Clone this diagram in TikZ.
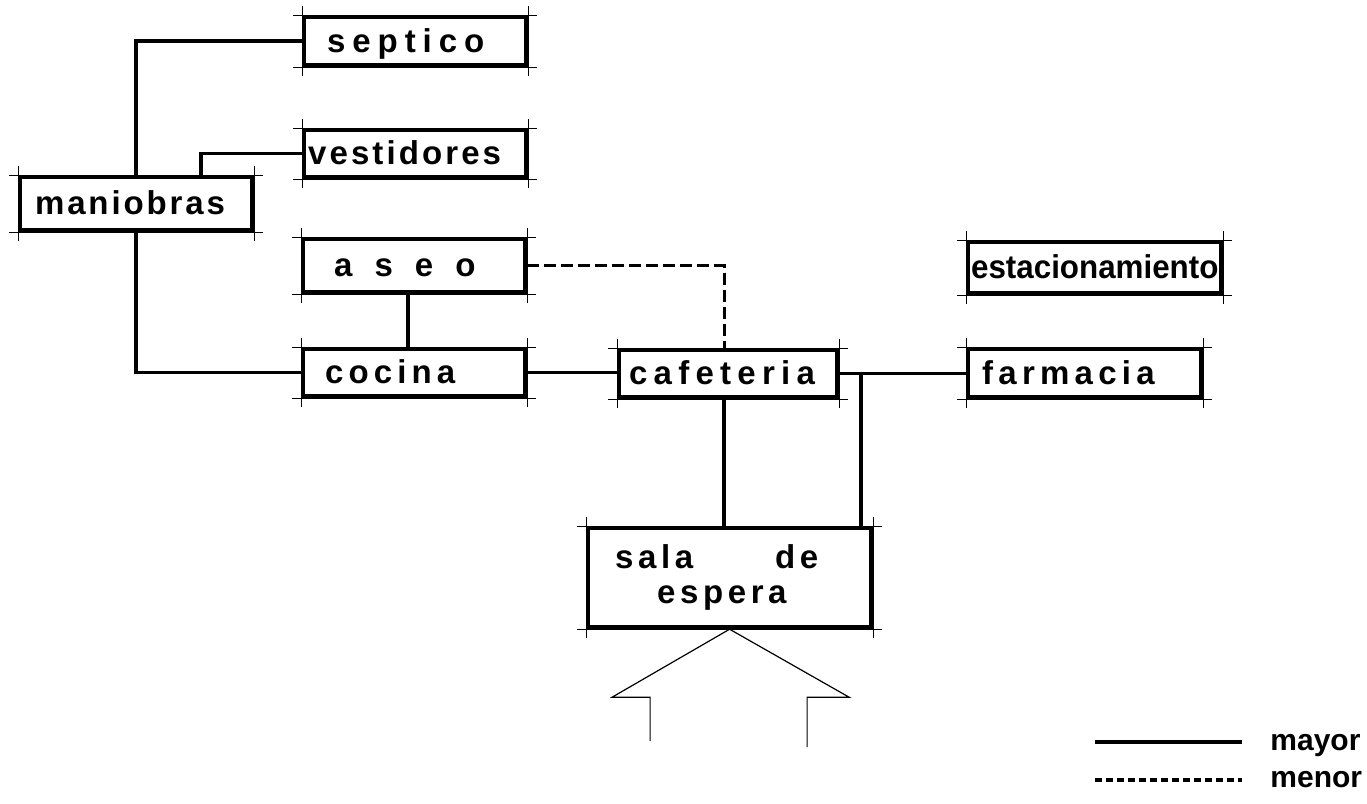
\documentclass[tikz,border=0pt]{standalone}
\usepackage{fontspec}
\usetikzlibrary{calc}
\newfontfamily\roomfont{Liberation Sans}
\newcommand\roomsize{\roomfont\bfseries\fontsize{16.5}{17.5}\selectfont}
\newcommand\keysize{\roomfont\bfseries\fontsize{15}{15}\selectfont}

\begin{document}
\begin{tikzpicture}[x=0.5pt,y=-0.5pt,
      room/.style={draw,line width=2.1pt,inner ysep=0pt,align=left,
                   anchor=north west,text height=11.8pt,text depth=0.8pt,
                   font=\roomsize},
      track/.style={font={\roomsize\addfontfeatures{LetterSpace=#1}}},
      narrow/.style={font={\roomsize\addfontfeatures{FakeStretch=0.95}}},
      tick/.style={line width=0.5pt},
      major/.style={line width=1.8pt},
      minor/.style={line width=1.6pt,dash pattern=on 6pt off 2.5pt},
      keydash/.style={line width=1.6pt,dash pattern=on 3.5pt off 2pt},
      entry/.style={line width=0.6pt},
      keytext/.style={inner sep=0pt,anchor=base west,font=\keysize}]
    \useasboundingbox (0,0) rectangle (1367,804);
    % rooms
    \node[room,track=21,text width=88pt,inner xsep=11.5pt,minimum height=24pt](sept) at (302,15){septico};
    \node[room,track=9.4,text width=107pt,inner xsep=2pt,minimum height=23.5pt](vest) at (302,128){vestidores};
    \node[room,track=8.7,text width=101pt,inner xsep=7.5pt,minimum height=26.5pt](mani) at (18,175){maniobras};
    \node[room,track=67,text width=80pt,inner xsep=15.5pt,minimum height=26.5pt](aseo) at (301,237){aseo};
    \node[room,narrow,text width=123.5pt,inner xsep=1.5pt,minimum height=25.5pt](estac) at (966,240){estacionamiento};
    \node[room,track=15.5,text width=89pt,inner xsep=11pt,minimum height=23.5pt](coc) at (301,347){cocina};
    \node[room,track=19,text width=99pt,inner xsep=5pt,minimum height=23.5pt](cafe) at (617,348){cafeteria};
    \node[room,track=16,text width=102.5pt,inner xsep=7pt,minimum height=24pt](farm) at (966,347){farmacia};
    \node[room,track=14,text height=,text depth=,text width=114.5pt,inner xsep=13.5pt,minimum height=49.5pt](sala) at (586,526)
         {sala\hspace{41pt}de\\\hspace*{21pt}espera};
    % corner ticks
    \foreach \n in {sept,vest,mani,aseo,estac,coc,cafe,farm,sala}{
      \draw[tick]($(\n.north west)+(-9,0)$)--($(\n.north east)+(9,0)$);
      \draw[tick]($(\n.south west)+(-9,0)$)--($(\n.south east)+(9,0)$);
      \draw[tick]($(\n.north west)+(0,-9)$)--($(\n.south west)+(0,9)$);
      \draw[tick]($(\n.north east)+(0,-9)$)--($(\n.south east)+(0,9)$);
    }
    % links
    \draw[major](mani.north)|-(sept.west);
    \draw[major]($(mani.north)+(65,0)$)|-(vest.west);
    \draw[major](mani.south)|-(coc.west);
    \draw[major]($(aseo.south)+(-6,0)$)--($(coc.north)+(-6,0)$);
    \draw[major](coc.east)--(coc.east-|cafe.west);
    \draw[major](cafe.east)--(cafe.east-|farm.west);
    \draw[major](cafe.east)-|($(sala.north east)+(-12,0)$);
    \draw[major]($(cafe.south)+(-4,0)$)--($(cafe.south|-sala.north)+(-4,0)$);
    \draw[minor](aseo.east)-|($(cafe.north)+(-4,0)$);
    % entrance
    \draw[entry](sala.south)--++(-117.5,68)--++(38,0)--++(0,44);
    \draw[entry](sala.south)--++(119.5,68)--++(-42,0)--++(0,50);
    % legend
    \node[keytext](mayor) at (1270,750){mayor};
    \node[keytext](menor) at (1270,787){menor};
    \draw[major]($(mayor.base west)+(-175,-8)$)--($(mayor.base west)+(-28,-8)$);
    \draw[keydash]($(menor.base west)+(-175,-7)$)--($(menor.base west)+(-28,-7)$);
  \end{tikzpicture}
\end{document}
